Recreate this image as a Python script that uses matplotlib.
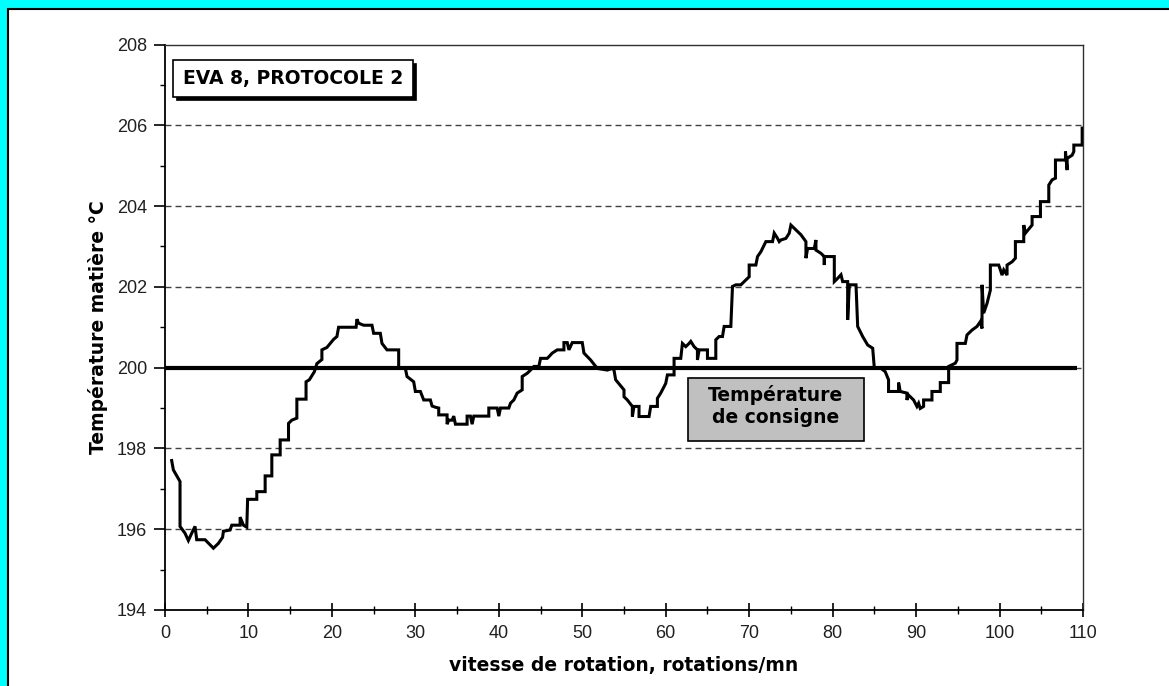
import matplotlib
matplotlib.use("Agg")
import matplotlib.pyplot as plt
from matplotlib.patches import Rectangle
from matplotlib.ticker import MultipleLocator

# vitesse de rotation (rotations/mn) et température matière (°C)
rpm = [0.8, 1.0, 1.8, 1.8, 2.4, 2.8, 3.2, 3.6, 3.8, 4.8, 5.8, 6.4, 6.9, 7.0, 7.8, 8.0,
       9.0, 9.0, 9.4, 9.8, 9.9, 11.0, 11.0, 12.0, 12.0, 12.8, 12.8, 13.8, 13.8, 14.8,
       14.8, 15.2, 15.8, 15.8, 16.9, 16.9, 17.3, 17.9, 18.2, 18.8, 18.8, 19.4, 19.8,
       20.2, 20.6, 20.8, 22.9, 23.0, 23.2, 23.8, 24.8, 25.0, 25.8, 26.0, 26.6, 28.0,
       28.0, 28.8, 29.0, 29.8, 30.0, 30.6, 31.0, 31.8, 32.0, 32.4, 32.8, 32.8, 33.8,
       33.8, 34.0, 34.4, 34.6, 34.8, 36.2, 36.2, 36.6, 36.8, 37.0, 38.8, 38.8, 39.8,
       40.0, 40.2, 41.2, 41.4, 41.8, 42.2, 42.8, 42.8, 43.4, 43.8, 44.2, 44.8, 45.0,
       45.8, 46.0, 46.4, 47.0, 47.8, 47.8, 48.2, 48.4, 48.8, 50.0, 50.2, 51.0, 51.8,
       53.0, 53.6, 53.8, 54.0, 55.0, 55.0, 55.4, 56.0, 56.0, 56.2, 56.8, 56.8, 58.0,
       58.2, 59.0, 59.0, 59.4, 60.0, 60.2, 61.0, 61.0, 61.8, 62.0, 62.4, 62.8, 63.0,
       63.4, 63.8, 63.8, 64.0, 65.0, 65.0, 66.0, 66.0, 66.4, 66.8, 67.0, 67.8, 68.0,
       68.4, 69.0, 69.6, 70.0, 70.0, 70.8, 71.0, 71.4, 71.8, 72.0, 72.8, 73.0, 73.4,
       73.6, 73.8, 74.4, 74.8, 75.0, 75.6, 76.2, 76.8, 76.8, 77.0, 77.8, 78.0, 78.0,
       78.6, 79.0, 79.0, 79.0, 80.2, 80.2, 80.6, 81.0, 81.2, 81.8, 81.8, 82.0, 82.8,
       83.0, 83.6, 84.2, 84.8, 85.0, 85.8, 86.3, 86.7, 86.7, 87.9, 87.9, 88.1, 88.9,
       88.9, 89.1, 89.7, 90.1, 90.3, 90.5, 90.9, 90.9, 91.9, 91.9, 92.9, 92.9, 93.9,
       93.9, 94.7, 94.9, 94.9, 95.9, 96.1, 96.7, 97.3, 97.7, 97.9, 97.9, 98.1, 98.5,
       98.9, 98.9, 99.9, 100.1, 100.3, 100.5, 100.9, 100.9, 101.5, 101.9, 101.9, 102.9,
       102.9, 103.1, 103.9, 103.9, 104.9, 104.9, 105.9, 105.9, 106.3, 106.7, 106.7,
       107.9, 107.9, 108.1, 108.1, 108.7, 108.9, 108.9, 109.9, 109.9]
temp = [197.70, 197.47, 197.18, 196.07, 195.90, 195.72, 195.90, 196.07, 195.74, 195.74,
        195.53, 195.65, 195.80, 195.95, 195.98, 196.10, 196.10, 196.30, 196.10, 196.05,
        196.74, 196.74, 196.93, 196.93, 197.32, 197.32, 197.84, 197.84, 198.21, 198.21,
        198.62, 198.70, 198.75, 199.22, 199.22, 199.65, 199.70, 199.90, 200.10, 200.20,
        200.44, 200.50, 200.60, 200.70, 200.77, 201.00, 201.00, 201.20, 201.10, 201.05,
        201.05, 200.85, 200.85, 200.60, 200.44, 200.44, 199.98, 199.98, 199.78, 199.65,
        199.41, 199.41, 199.20, 199.20, 199.05, 199.02, 199.00, 198.83, 198.83, 198.60,
        198.70, 198.70, 198.80, 198.60, 198.60, 198.80, 198.80, 198.60, 198.80, 198.80,
        199.00, 199.00, 198.80, 199.00, 199.00, 199.12, 199.20, 199.37, 199.45, 199.78,
        199.86, 199.94, 200.03, 200.03, 200.23, 200.23, 200.27, 200.36, 200.44, 200.44,
        200.62, 200.62, 200.44, 200.62, 200.62, 200.36, 200.19, 199.98, 199.94, 199.98,
        199.94, 199.70, 199.45, 199.28, 199.20, 199.04, 198.79, 199.04, 199.04, 198.79,
        198.79, 199.04, 199.04, 199.24, 199.37, 199.61, 199.82, 199.82, 200.23, 200.23,
        200.60, 200.52, 200.60, 200.65, 200.52, 200.44, 200.19, 200.44, 200.44, 200.23,
        200.23, 200.69, 200.77, 200.77, 201.02, 201.02, 202.01, 202.05, 202.05, 202.17,
        202.25, 202.54, 202.54, 202.75, 202.87, 203.04, 203.12, 203.12, 203.33, 203.20,
        203.12, 203.16, 203.20, 203.33, 203.53, 203.41, 203.29, 203.12, 202.71, 202.95,
        202.95, 203.16, 202.91, 202.83, 202.75, 202.54, 202.75, 202.75, 202.13, 202.21,
        202.30, 202.13, 202.13, 201.18, 202.05, 202.05, 201.02, 200.77, 200.56, 200.48,
        199.98, 199.98, 199.90, 199.70, 199.41, 199.41, 199.63, 199.41, 199.37, 199.20,
        199.32, 199.20, 199.04, 199.12, 198.99, 199.04, 199.20, 199.20, 199.41, 199.41,
        199.63, 199.63, 200.03, 200.11, 200.19, 200.60, 200.60, 200.81, 200.93, 201.02,
        201.14, 200.97, 202.05, 201.35, 201.59, 201.92, 202.54, 202.54, 202.42, 202.29,
        202.42, 202.29, 202.54, 202.62, 202.71, 203.12, 203.12, 203.53, 203.33, 203.53,
        203.74, 203.74, 204.11, 204.11, 204.52, 204.65, 204.69, 205.14, 205.14, 205.35,
        204.89, 205.18, 205.26, 205.35, 205.51, 205.51, 205.93]

consigne = 200
consigne_rpm = [0, 109.3]
x_ticks = list(range(0, 111, 10))
y_ticks = list(range(194, 209, 2))

bold = dict(family="DejaVu Sans", fontweight="bold")
tickfont = ["Liberation Sans", "DejaVu Sans"]

fig = plt.figure(figsize=(11.69, 6.86), dpi=100)
fig.patch.set_facecolor("#00FFFF")
W, H = 1169, 686
# panneau blanc avec bordure noire
fig.patches.append(Rectangle((7.5 / W, -0.05), 1.1, (686 - 9.5) / H + 0.05,
                             transform=fig.transFigure, facecolor="white",
                             edgecolor="black", linewidth=1.5, zorder=-10))

ax = fig.add_axes([165 / W, 1 - 610 / H, (1083 - 165) / W, (610 - 44.5) / H])
ax.set_zorder(1)
ax.set_facecolor("white")
ax.set_xlim(0, 110)
ax.set_ylim(194, 208)

for y in y_ticks[1:-1]:
    ax.axhline(y, color="#404040", linewidth=1.0, linestyle=(0, (4.3, 2.9)), zorder=1)

ax.plot(consigne_rpm, [consigne, consigne], color="black", linewidth=3.0,
        solid_capstyle="butt", zorder=3)
ax.plot(rpm, temp, color="black", linewidth=2.2, solid_joinstyle="miter", zorder=4)

ax.xaxis.set_major_locator(MultipleLocator(10))
ax.xaxis.set_minor_locator(MultipleLocator(5))
ax.yaxis.set_major_locator(MultipleLocator(2))
ax.yaxis.set_minor_locator(MultipleLocator(1))
ax.tick_params(axis="x", which="major", direction="inout", length=10, width=1.2, pad=6)
ax.tick_params(axis="x", which="minor", direction="inout", length=6, width=1.0)
ax.tick_params(axis="y", which="major", direction="out", length=8, width=1.2, pad=5)
ax.tick_params(axis="y", which="minor", direction="out", length=3.6, width=1.0)
ax.set_xticks(x_ticks)
ax.set_yticks(y_ticks)
for lab in ax.get_xticklabels() + ax.get_yticklabels():
    lab.set_family(tickfont)
    lab.set_fontsize(13)
    lab.set_color("#202020")

for side in ("left", "bottom"):
    ax.spines[side].set_linewidth(1.3)
for side in ("top", "right"):
    ax.spines[side].set_linewidth(1.0)
    ax.spines[side].set_color("#303030")

ax.set_xlabel("vitesse de rotation, rotations/mn", fontsize=13.5, **bold)
ax.set_ylabel("Température matière °C", fontsize=13.5, **bold)
ax.xaxis.set_label_coords(0.5, -0.082)
ax.yaxis.set_label_coords(-0.062, 0.5)

# boîte titre avec ombre
ax.add_patch(Rectangle((0.0087 + 0.003, 0.9063 - 0.005), 0.2614, 0.0663,
                       transform=ax.transAxes, facecolor="black", edgecolor="black",
                       linewidth=0.5, zorder=5))
ax.add_patch(Rectangle((0.0087, 0.9063), 0.2614, 0.0663, transform=ax.transAxes,
                       facecolor="white", edgecolor="black", linewidth=1.2, zorder=6))
ax.text(0.0087 + 0.2614 / 2, 0.9063 + 0.0663 / 2, "EVA 8, PROTOCOLE 2",
        transform=ax.transAxes, ha="center", va="center", fontsize=13.5, zorder=7, **bold)

# boîte température de consigne
ax.add_patch(Rectangle(((688 - 165) / 918, (610 - 440.5) / 565.5), 176 / 918, 63 / 565.5,
                       transform=ax.transAxes, facecolor="#C0C0C0", edgecolor="black",
                       linewidth=1.2, zorder=6))
ax.text((776 - 165) / 918, (610 - 406) / 565.5, "Température\nde consigne",
        transform=ax.transAxes, ha="center", va="center", fontsize=13.5,
        linespacing=1.25, zorder=7, **bold)

fig.savefig("out.png", dpi=100, facecolor=fig.get_facecolor())
